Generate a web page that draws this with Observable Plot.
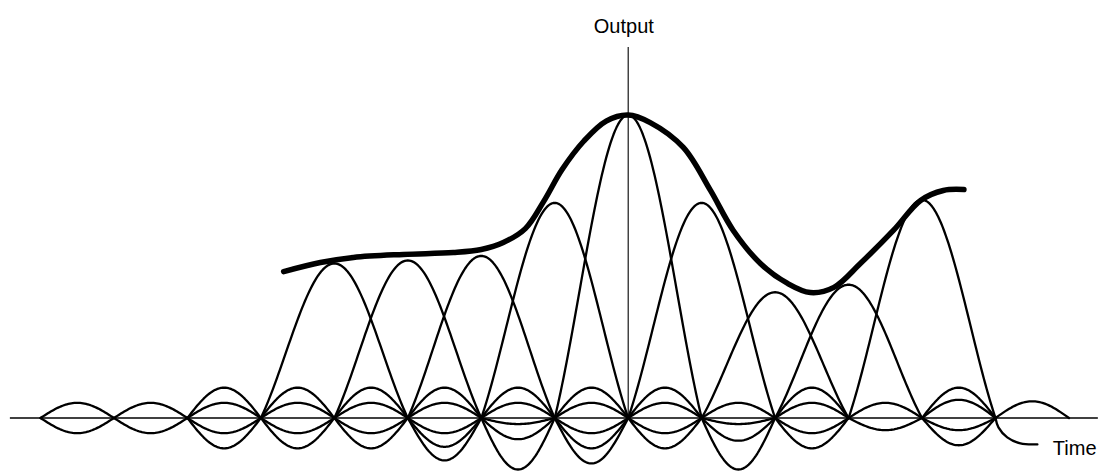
<!DOCTYPE html>
<html>
<head>
<meta charset="utf-8">
<script src="https://cdn.jsdelivr.net/npm/d3@7"></script>
<script src="https://cdn.jsdelivr.net/npm/@observablehq/plot@0.6"></script>
<style>
  html, body { margin: 0; padding: 0; background: #fff; }
  #chart svg { display: block; }
</style>
</head>
<body>
<div id="chart"></div>
<script>
// Sample instants (in sample periods) and sample values (centre sample = 100)
const sampleTimes  = [4, 5, 6, 7, 8, 9, 10, 11, 12];
const sampleValues = [51, 52, 53.5, 71, 100, 71, 41.5, 44, 72];

// Side lobes drawn in each sample interval (interval start, lobe height)
const sidelobeStart = [0,0, 1,1, 2,2,2,2, 3,3,3,3, 4,4,4,4, 5,5,5,5,5, 6,6,6,6,6, 7,7,7,7,7, 8,8,8,8, 9,9,9,9, 10,10,10,10, 11,11, 12,12,12,12, 13];
const sidelobeHeight = [5,-5, 5,-5, 10,5,-5,-10, 10,5,-5,-10, 10,5,-5,-10, 10,5,-5,-9.5,-14, 10,5,-2,-7,-17, 10,5,-5,-10,-15, 10,5,-5,-10, 5,-2,-7.5,-17, 10,5,-5,-10, 5,-4, 10,6,-4,-9, 5.5];

// Reconstructed output (thick curve)
const outputTime  = [3.31, 3.81, 4.26, 4.94, 5.62, 6.0, 6.3, 6.6, 6.85, 7.1, 7.4, 7.7, 8.0, 8.30, 8.75, 9.12, 9.43, 9.80, 10.17, 10.48, 10.80, 11.16, 11.61, 11.98, 12.29, 12.57];
const outputValue = [48.3, 51.3, 53.0, 54.0, 54.6, 55.6, 57.9, 62.5, 71.5, 82.0, 91.5, 98.0, 100, 97.5, 89.3, 75.1, 61.9, 51.0, 44.4, 41.4, 43.1, 51.0, 61.9, 71.8, 75.1, 75.4];

// Leader from the time axis to its label
const leaderTime  = [13.0, 13.04, 13.16, 13.34, 13.57];
const leaderValue = [0, -3.1, -6.4, -8.4, -8.7];

// Axes extents and labels
const timeAxisExtent = [-0.41, 14.4];
const outputAxisTime = 8;
const outputAxisTop = 122.3;
const labelText = ["Output", "Time"];
const labelTime = [7.94, 13.78];
const labelValue = [129.2, -10.1];
const labelAnchor = ["middle", "start"];

// Build pulse geometry from the sample values
const step = 0.02;
const sinc = u => u === 0 ? 1 : Math.sin(Math.PI * u) / (Math.PI * u);
const mainLobes = [];
sampleTimes.forEach((k, i) => {
  for (let u = -1; u <= 1 + 1e-9; u += step) {
    mainLobes.push({id: i, t: k + u, v: sampleValues[i] * sinc(u)});
  }
});
const sideLobes = [];
sidelobeStart.forEach((s, i) => {
  for (let u = 0; u <= 1 + 1e-9; u += step) {
    sideLobes.push({id: i, t: s + u, v: sidelobeHeight[i] * Math.sin(Math.PI * u)});
  }
});
const outputCurve = outputTime.map((t, i) => ({t, v: outputValue[i]}));
const leader = leaderTime.map((t, i) => ({t, v: leaderValue[i]}));
const labels = labelText.map((text, i) => ({text, t: labelTime[i], v: labelValue[i], anchor: labelAnchor[i]}));

const chart = Plot.plot({
  width: 1111,
  height: 471,
  margin: 0,
  style: {background: "#fff", fontFamily: "'Liberation Sans', Arial, Helvetica, sans-serif"},
  x: {domain: [0, 13], range: [40, 995], axis: null},
  y: {domain: [0, 100], range: [417.5, 114.5], axis: null},
  marks: [
    Plot.ruleY([0], {x1: timeAxisExtent[0], x2: timeAxisExtent[1], stroke: "#000", strokeWidth: 1.6}),
    Plot.ruleX([outputAxisTime], {y1: 0, y2: outputAxisTop, stroke: "#000", strokeWidth: 1.1}),
    Plot.line(sideLobes, {x: "t", y: "v", z: "id", stroke: "#000", strokeWidth: 2.3}),
    Plot.line(mainLobes, {x: "t", y: "v", z: "id", stroke: "#000", strokeWidth: 2.3}),
    Plot.line(outputCurve, {x: "t", y: "v", stroke: "#000", strokeWidth: 5.5, curve: "catmull-rom"}),
    Plot.line(leader, {x: "t", y: "v", stroke: "#000", strokeWidth: 2.3, curve: "catmull-rom"}),
    Plot.text(labels.filter(d => d.anchor === "middle"), {x: "t", y: "v", text: "text", textAnchor: "middle", fontSize: 20, fill: "#000"}),
    Plot.text(labels.filter(d => d.anchor === "start"), {x: "t", y: "v", text: "text", textAnchor: "start", fontSize: 20, fill: "#000"})
  ]
});
document.getElementById("chart").appendChild(chart);
</script>
</body>
</html>
